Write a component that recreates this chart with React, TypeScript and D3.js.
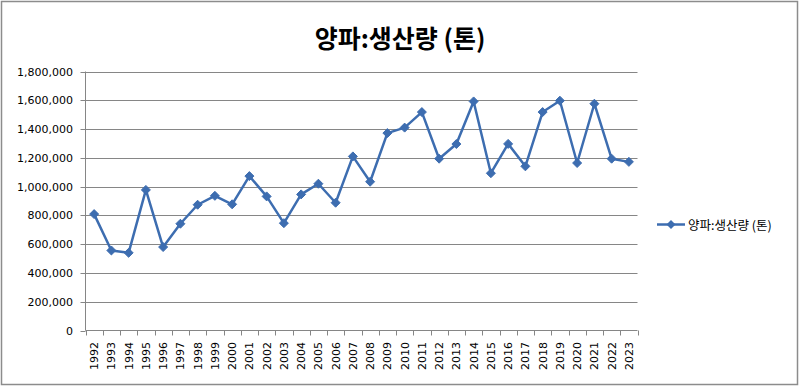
import React from "react";
import * as d3 from "d3";

const years = ["1992","1993","1994","1995","1996","1997","1998","1999","2000","2001","2002","2003","2004","2005","2006","2007","2008","2009","2010","2011","2012","2013","2014","2015","2016","2017","2018","2019","2020","2021","2022","2023"];
const production = [809000,556000,540000,977000,580000,742000,874000,936000,877000,1073000,932000,746000,946000,1020000,888000,1210000,1034000,1372000,1410000,1518000,1194000,1296000,1592000,1093000,1297000,1141000,1518000,1597000,1164000,1576000,1194000,1172000];
const yTicks = [0,200000,400000,600000,800000,1000000,1200000,1400000,1600000,1800000];
const title = "양파:생산량 (톤)";
const seriesName = "양파:생산량 (톤)";

const W = 800, H = 387;
const left = 85.5, right = 637.5, top = 71.5, bottom = 330.5;
const color = "#3D6DB0";
const gridColor = "#868686";

export default function App() {
  const x = d3.scaleBand<string>().domain(years).range([left, right]);
  const y = d3.scaleLinear().domain([0, 1800000]).range([bottom, top]);
  const line = d3.line<number>()
    .x((_, i) => (x(years[i]) as number) + x.bandwidth() / 2)
    .y((d) => y(d));
  const fmt = d3.format(",");
  const diamond = (cx: number, cy: number, r = 4.5) =>
    `M${cx},${cy - r}L${cx + r},${cy}L${cx},${cy + r}L${cx - r},${cy}Z`;
  const boundaries = years.map((yr) => x(yr) as number).concat([right]);

  return (
    <svg width={W} height={H} style={{ position: "absolute", left: 0, top: 0, display: "block" }}>
      <rect x={0} y={0} width={W} height={H} fill="#fff" />
      <rect x={1.5} y={1.5} width={W - 4} height={H - 4} fill="none" stroke="#8c8c8c" strokeWidth={1.5} />
      <text x={400} y={48} textAnchor="middle" fontFamily="'Noto Sans CJK KR', sans-serif" fontWeight="bold" fontSize={25} fill="#000">{title}</text>
      {yTicks.map((t) => (
        <g key={t}>
          {t > 0 && <line x1={left} x2={right} y1={Math.round(y(t)) + 0.5} y2={Math.round(y(t)) + 0.5} stroke={gridColor} strokeWidth={1} />}
          <line x1={left - 5} x2={left} y1={Math.round(y(t)) + 0.5} y2={Math.round(y(t)) + 0.5} stroke={gridColor} />
          <text x={73} y={y(t) + 4} textAnchor="end" fontFamily="'DejaVu Sans', sans-serif" fontSize={11} fill="#000">{fmt(t)}</text>
        </g>
      ))}
      <line x1={left} x2={left} y1={top} y2={bottom} stroke={gridColor} />
      <line x1={left} x2={right} y1={bottom} y2={bottom} stroke={gridColor} />
      {boundaries.map((bx, i) => (
        <line key={i} x1={Math.round(bx) + 0.5} x2={Math.round(bx) + 0.5} y1={bottom} y2={bottom + 5} stroke={gridColor} />
      ))}
      {years.map((yr) => {
        const cx = (x(yr) as number) + x.bandwidth() / 2;
        return (
          <text key={yr} transform={`translate(${cx + 4},${342}) rotate(-90)`} textAnchor="end" fontFamily="'DejaVu Sans', sans-serif" fontSize={11} fill="#000">{yr}</text>
        );
      })}
      <path d={line(production) || ""} fill="none" stroke={color} strokeWidth={2.5} strokeLinejoin="round" />
      {production.map((v, i) => (
        <path key={i} d={diamond((x(years[i]) as number) + x.bandwidth() / 2, y(v))} fill={color} stroke={color} strokeWidth={1} />
      ))}
      <line x1={657} x2={685} y1={224.5} y2={224.5} stroke={color} strokeWidth={2.5} />
      <path d={diamond(671, 224.5)} fill={color} />
      <text x={688} y={229.5} fontFamily="'Noto Sans CJK KR', sans-serif" fontSize={12.5} fill="#000">{seriesName}</text>
    </svg>
  );
}
